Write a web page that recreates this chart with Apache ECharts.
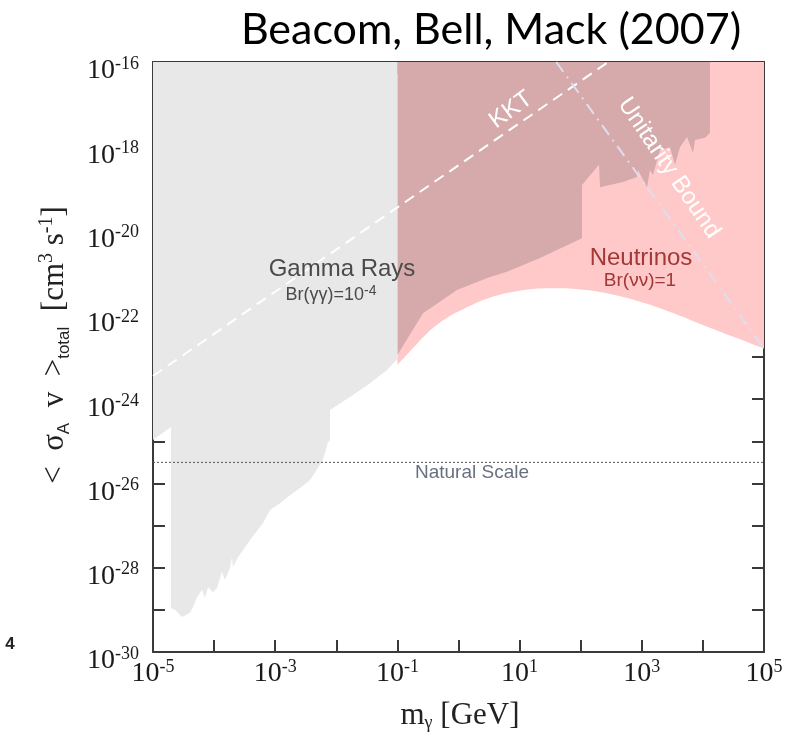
<!DOCTYPE html>
<html><head><meta charset="utf-8">
<script src="https://cdn.jsdelivr.net/npm/echarts@6/dist/echarts.min.js"></script>
<style>html,body{margin:0;padding:0;background:#fff}#c{width:791px;height:736px}</style>
</head><body><div id="c"></div>
<script>
// All values are log10: m in GeV, <sigma v> in cm^3 s^-1
const xMin = -5, xMax = 5;
const yMin = -30, yMax = -16;

// Gamma-ray excluded region (lower boundary), m < 0.1 GeV
const gammaLowLogM = [-5.0, -4.705, -4.705, -4.64, -4.525, -4.394, -4.345, -4.28, -4.198, -4.149, -4.10, -4.018, -3.953, -3.871, -3.822, -3.74, -3.707, -3.691, -3.609, -3.412, -3.20, -3.085, -2.921, -2.758, -2.594, -2.43, -2.218, -2.136, -2.103, -2.103, -1.727, -1.448, -1.17, -1.0];
const gammaLowLogSigma = [-24.97, -24.66, -28.96, -29.0, -29.17, -29.07, -28.93, -28.7, -28.53, -28.72, -28.46, -28.58, -28.48, -28.1, -28.29, -28.01, -27.75, -27.98, -27.75, -27.34, -26.94, -26.63, -26.47, -26.28, -26.11, -25.92, -25.44, -25.02, -24.97, -24.26, -23.9, -23.62, -23.31, -23.05];

// Gamma-ray excluded region (lower boundary), m > 0.1 GeV (overlaps neutrinos)
const gammaHighLogM = [-1.0, -0.581, -0.025, 0.515, 0.794, 1.334, 2.021, 2.021, 2.30, 2.316, 2.692, 2.921, 2.938, 3.085, 3.134, 3.183, 3.298, 3.462, 3.543, 3.625, 3.74, 3.838, 3.871, 4.034, 4.116, 4.116];
const gammaHighLogSigma = [-22.95, -21.96, -21.41, -21.10, -20.98, -20.65, -20.18, -18.92, -18.44, -18.97, -18.85, -18.73, -18.56, -18.97, -18.56, -18.68, -18.09, -18.02, -18.44, -18.02, -17.78, -18.16, -17.85, -17.80, -17.68, -16.0];

// Neutrino excluded region (lower boundary)
const nuLogM = [-1.0, -0.75, -0.5, -0.25, 0.0, 0.5, 1.0, 1.5, 2.0, 2.5, 3.0, 3.5, 4.0, 4.5, 5.0];
const nuLogSigma = [-23.19, -22.80, -22.42, -22.13, -21.92, -21.60, -21.43, -21.37, -21.40, -21.51, -21.70, -21.95, -22.24, -22.52, -22.80];

// Reference lines
const naturalScaleLogM = [-5, 5];
const naturalScaleLogSigma = [-25.5, -25.5];
const kktLogM = [-5, 2.45];
const kktLogSigma = [-23.45, -16];
const unitarityLogM = [1.6, 5];
const unitarityLogSigma = [-16, -22.8];

const xLabelExps = [-5, -3, -1, 1, 3, 5];
const yLabelExps = [-30, -28, -26, -24, -22, -20, -18, -16];

const zip = (a, b) => a.map((v, i) => [v, b[i]]);

const SERIF = '"Liberation Serif", "DejaVu Serif", serif';
const SANS = '"Liberation Sans", Arial, sans-serif';

const tickRich = {
  b: { fontFamily: SERIF, fontSize: 28, color: '#1a1a1a', lineHeight: 30, verticalAlign: 'bottom' },
  s: { fontFamily: SERIF, fontSize: 18, color: '#1a1a1a', lineHeight: 16, verticalAlign: 'top' }
};
const frame = { show: true, onZero: false, lineStyle: { color: '#3a3a3a', width: 2 } };
const ticks = { show: true, inside: true, length: 12, lineStyle: { color: '#3a3a3a', width: 2 } };

const chart = echarts.init(document.getElementById('c'), null, { renderer: 'canvas' });
chart.setOption({
  animation: false,
  backgroundColor: '#fff',
  grid: { left: 153, right: 27, top: 62, bottom: 84 },
  xAxis: [
    { type: 'value', min: xMin, max: xMax, interval: 1, position: 'bottom',
      axisLine: frame, axisTick: ticks, splitLine: { show: false },
      axisLabel: { margin: 6, rich: tickRich,
        formatter: v => xLabelExps.includes(v) ? '{b|10}{s|' + v + '}' : '' } },
    { type: 'value', min: xMin, max: xMax, interval: 1, position: 'top',
      axisLine: frame, axisTick: ticks, splitLine: { show: false }, axisLabel: { show: false } }
  ],
  yAxis: [
    { type: 'value', min: yMin, max: yMax, interval: 1, position: 'left',
      axisLine: frame, axisTick: ticks, splitLine: { show: false },
      axisLabel: { margin: 14, rich: tickRich, padding: [16, 0, 0, 0],
        formatter: v => yLabelExps.includes(v) ? '{b|10}{s|' + v + '}' : '' } },
    { type: 'value', min: yMin, max: yMax, interval: 1, position: 'right',
      axisLine: frame, axisTick: ticks, splitLine: { show: false }, axisLabel: { show: false } }
  ],
  series: [
    { name: 'Neutrinos', type: 'line', data: zip(nuLogM, nuLogSigma), symbol: 'none', z: 1, smooth: 0.4,
      lineStyle: { width: 0 }, areaStyle: { color: '#ffc9c9', opacity: 1, origin: 'end' } },
    { name: 'Gamma (overlap)', type: 'line', data: zip(gammaHighLogM, gammaHighLogSigma), symbol: 'none', z: 2,
      lineStyle: { width: 0 }, areaStyle: { color: '#d6aaaa', opacity: 1, origin: 'end' } },
    { name: 'Gamma Rays', type: 'line', data: zip(gammaLowLogM, gammaLowLogSigma), symbol: 'none', z: 2,
      lineStyle: { width: 0 }, areaStyle: { color: '#e8e8e8', opacity: 1, origin: 'end' } },
    { name: 'Natural Scale', type: 'line', data: zip(naturalScaleLogM, naturalScaleLogSigma), symbol: 'none', z: 3,
      lineStyle: { color: '#555', width: 1, type: [2, 2] } },
    { name: 'KKT', type: 'line', data: zip(kktLogM, kktLogSigma), symbol: 'none', z: 3,
      lineStyle: { color: '#ffffff', width: 2, type: [11, 7] } },
    { name: 'Unitarity', type: 'line', data: zip(unitarityLogM, unitarityLogSigma), symbol: 'none', z: 3,
      lineStyle: { color: '#dcdff0', width: 2, type: [12, 6, 2, 6] } }
  ],
  graphic: [
    { type: 'text', x: 491, y: 30, z: 10, style: { text: 'Beacom, Bell, Mack (2007)', font: '43px Lato, "Open Sans", sans-serif', fill: '#000', textAlign: 'center', textVerticalAlign: 'middle' } },
    { type: 'text', x: 10, y: 644, z: 10, style: { text: '4', font: 'bold 17px "Liberation Sans", sans-serif', fill: '#222', textAlign: 'center', textVerticalAlign: 'middle' } },
    { type: 'text', x: 55, y: 345, rotation: Math.PI / 2, z: 10, style: {
        text: '{n|<  σ}{sub|A}{n|  v  >}{sub|total}{n|  [cm}{sup|3}{n| s}{sup|-1}{n|]}',
        textAlign: 'center', textVerticalAlign: 'middle',
        rich: {
          n: { fontFamily: SERIF, fontSize: 31, fill: '#222', lineHeight: 36, verticalAlign: 'middle' },
          sub: { fontFamily: SANS, fontSize: 17, fill: '#222', lineHeight: 14, verticalAlign: 'bottom' },
          sup: { fontFamily: SERIF, fontSize: 20, fill: '#222', lineHeight: 14, verticalAlign: 'top' }
        } } },
    { type: 'text', x: 460, y: 716, z: 10, style: {
        text: '{n|m}{sub|γ}{n| [GeV]}', textAlign: 'center', textVerticalAlign: 'middle',
        rich: {
          n: { fontFamily: SERIF, fontSize: 31, fill: '#222', lineHeight: 32, verticalAlign: 'middle' },
          sub: { fontFamily: SERIF, fontSize: 18, fill: '#222', lineHeight: 12, verticalAlign: 'bottom' }
        } } },
    { type: 'text', x: 342, y: 269, z: 10, style: { text: 'Gamma Rays', font: '24px ' + SANS, fill: '#4a4a4a', textAlign: 'center', textVerticalAlign: 'middle' } },
    { type: 'text', x: 331, y: 294, z: 10, style: {
        text: '{t|Br(γγ)=10}{s|-4}', textAlign: 'center', textVerticalAlign: 'middle',
        rich: { t: { fontFamily: SANS, fontSize: 18, fill: '#4a4a4a', lineHeight: 20, verticalAlign: 'bottom' },
                s: { fontFamily: SANS, fontSize: 14, fill: '#4a4a4a', lineHeight: 10, verticalAlign: 'top' } } } },
    { type: 'text', x: 641, y: 258, z: 10, style: { text: 'Neutrinos', font: '24px ' + SANS, fill: '#a23838', textAlign: 'center', textVerticalAlign: 'middle' } },
    { type: 'text', x: 640, y: 281, z: 10, style: { text: 'Br(νν)=1', font: '19px ' + SANS, fill: '#a23838', textAlign: 'center', textVerticalAlign: 'middle' } },
    { type: 'text', x: 511, y: 110, rotation: 36 * Math.PI / 180, z: 10, style: { text: 'KKT', font: '24px ' + SANS, fill: '#ffffff', textAlign: 'center', textVerticalAlign: 'middle' } },
    { type: 'text', x: 669, y: 168, rotation: -56 * Math.PI / 180, z: 10, style: { text: 'Unitarity Bound', font: '24px ' + SANS, fill: '#ffffff', textAlign: 'center', textVerticalAlign: 'middle' } },
    { type: 'text', x: 472, y: 473, z: 10, style: { text: 'Natural Scale', font: '19px ' + SANS, fill: '#687080', textAlign: 'center', textVerticalAlign: 'middle' } }
  ]
});
</script></body></html>
